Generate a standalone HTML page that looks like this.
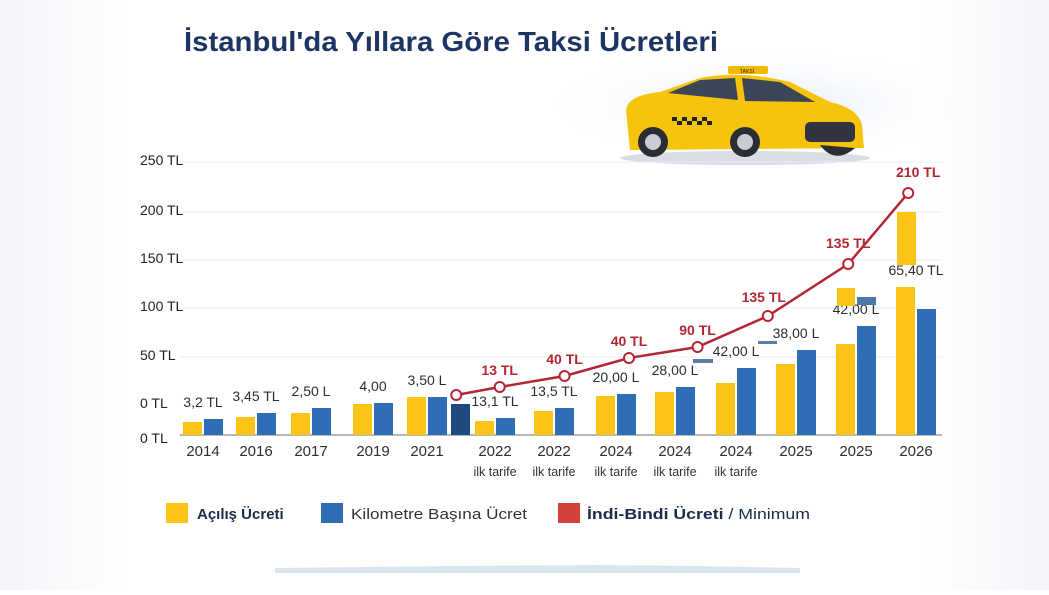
<!DOCTYPE html>
<html><head><meta charset="utf-8">
<style>
html,body{margin:0;padding:0;background:#fff;}
body{width:1049px;height:590px;overflow:hidden;font-family:"Liberation Sans","DejaVu Sans",sans-serif;}
svg text{font-family:"Liberation Sans","DejaVu Sans",sans-serif;}
</style></head>
<body>
<svg id="chart" width="1049" height="590" viewBox="0 0 1049 590" xmlns="http://www.w3.org/2000/svg">
<defs>
<linearGradient id="bg" x1="0" y1="0" x2="1" y2="0"><stop offset="0" stop-color="#f3f5f9"/><stop offset="0.12" stop-color="#fff"/><stop offset="0.88" stop-color="#fff"/><stop offset="1" stop-color="#f3f5f9"/></linearGradient>
<radialGradient id="sky" cx="0.5" cy="0.5" r="0.5"><stop offset="0" stop-color="#e3ebf5"/><stop offset="1" stop-color="#ffffff" stop-opacity="0"/></radialGradient>
</defs>
<rect width="1049" height="590" fill="url(#bg)"/>
<ellipse cx="760" cy="105" rx="230" ry="60" fill="url(#sky)"/>
<text x="184" y="51" font-size="28" font-weight="bold" fill="#1e3563" textLength="534" lengthAdjust="spacingAndGlyphs">İstanbul'da Yıllara Göre Taksi Ücretleri</text>

<g>
<ellipse cx="745" cy="158" rx="125" ry="7" fill="#d8dde6"/>
<path d="M630 150 L626 110 Q628 95 660 92 L700 78 Q740 70 790 82 L830 102 Q858 108 862 125 L864 148 Z" fill="#f7c40d"/>
<path d="M668 93 L700 80 L735 78 L738 100 Z" fill="#3d4656"/>
<path d="M742 78 L780 82 L815 102 L745 101 Z" fill="#3d4656"/>
<rect x="728" y="66" width="40" height="8" rx="2" fill="#f3b800"/>
<text x="740" y="73" font-size="5" fill="#222">TAKSİ</text>
<g fill="#222"><rect x="672" y="117" width="5" height="4"/><rect x="682" y="117" width="5" height="4"/><rect x="692" y="117" width="5" height="4"/><rect x="702" y="117" width="5" height="4"/><rect x="677" y="121" width="5" height="4"/><rect x="687" y="121" width="5" height="4"/><rect x="697" y="121" width="5" height="4"/><rect x="707" y="121" width="5" height="4"/></g>
<rect x="805" y="122" width="50" height="20" rx="5" fill="#2f3440"/>
<circle cx="653" cy="142" r="15" fill="#2a2d33"/><circle cx="653" cy="142" r="8" fill="#c8ccd3"/>
<circle cx="745" cy="142" r="15" fill="#2a2d33"/><circle cx="745" cy="142" r="8" fill="#c8ccd3"/>
<path d="M820 145 Q835 165 855 148 Z" fill="#2a2d33"/>
</g>

<g id="grid"></g>
<g id="yaxis"></g>
<line x1="180" y1="435" x2="942" y2="435" stroke="#9aa0a8" stroke-width="1.5"/>
<g id="bars"></g>
<g>
<rect x="693" y="359" width="20" height="4" fill="#5b7fa8"/>
<rect x="758" y="341" width="19" height="3" fill="#5b7fa8"/>
<rect x="837" y="288" width="18" height="18" fill="#fcc419"/>
<rect x="857" y="297" width="19" height="8" fill="#4a78ad"/>
<rect x="897" y="212" width="19" height="53" fill="#fcc419"/>
</g>
<g id="line"></g>
<g id="xaxis"></g>

<g>
<g><rect x="166" y="503" width="22" height="20" fill="#fcc419"/><text x="197" y="519" font-size="15" font-weight="bold" fill="#1b2b4a">Açılış Ücreti</text></g>
<g><rect x="321" y="503" width="22" height="20" fill="#2f6db5"/><text x="351" y="519" font-size="15" fill="#333" textLength="176" lengthAdjust="spacingAndGlyphs">Kilometre Başına Ücret</text></g>
<g><rect x="558" y="503" width="22" height="20" fill="#d2423b"/><text x="587" y="519" font-size="15" fill="#1b2b4a" textLength="223" lengthAdjust="spacingAndGlyphs"><tspan font-weight="bold">İndi-Bindi Ücreti</tspan> / Minimum</text></g>
</g>
<path d="M275 573 L800 573 L800 568 L700 566 L600 565 L450 566 L275 568 Z" fill="#dbe5f1"/>
</svg>
<script>
const categories=["2014","2016","2017","2019","2021","2022","2022","2024","2024","2024","2025","2025","2026"];
const subLabels=["","","","","","ilk tarife","ilk tarife","ilk tarife","ilk tarife","ilk tarife","","",""];
const openingFee=[13,18,22,31,38,14,24,39,43,52,71,91,148];
const perKmFee=[16,22,27,32,38,17,27,41,48,67,85,109,126];
const valueLabels=["3,2 TL","3,45 TL","2,50 L","4,00","3,50 L","13,1 TL","13,5 TL","20,00 L","28,00 L","42,00 L","38,00 L","42,00 L","65,40 TL"];
const lineCats=[5,5,6,7,8,9,11,12];
const lineOffsets=[-0.57,0.08,0.17,0.22,0.37,0.53,-0.13,-0.13];
const minFare=[40,48,59,77,88,119,171,242];
const minFareLabels=["","13 TL","40 TL","40 TL","90 TL","135 TL","135 TL","210 TL"];
const tickValues=[0,30,78,127,175,223,273];
const tickLabels=["0 TL","0 TL","50 TL","100 TL","150 TL","200 TL","250 TL"];
const groupCenters=[203,256,311,373,427,495,554,616,675,736,796,856,916];

const NS="http://www.w3.org/2000/svg";
const base=435,k=1,bw=19;
function y(v){return base-v*k;}
function xc(i){const f=Math.floor(i);const n=Math.min(f+1,groupCenters.length-1);const step=(n>f)?groupCenters[n]-groupCenters[f]:60;return groupCenters[f]+(i-f)*step;}
function mk(tag,attrs,parent){const e=document.createElementNS(NS,tag);for(const a in attrs)e.setAttribute(a,attrs[a]);parent.appendChild(e);return e;}
const grid=document.getElementById('grid'),yaxis=document.getElementById('yaxis'),bars=document.getElementById('bars'),line=document.getElementById('line'),xaxis=document.getElementById('xaxis');
tickValues.forEach((v,i)=>{
  if(i>1){const g=mk('line',{x1:180,x2:942,y1:y(v),y2:y(v),stroke:'#eceef2','stroke-width':1},grid);
  
  }
  const t=mk('text',{x:140,y:y(v)+(i===0?8:3),'font-size':14,fill:'#222'},yaxis);
  t.textContent=tickLabels[i];
  
  
});
categories.forEach((c,i)=>{
  const cx=groupCenters[i];
  const r1=mk('rect',{x:cx-bw-1,y:y(openingFee[i]),width:bw,height:openingFee[i]*k,fill:'#fcc419'},bars);
  
  
  const r2=mk('rect',{x:cx+1,y:y(perKmFee[i]),width:bw,height:perKmFee[i]*k,fill:'#2f6db5'},bars);
  
  
  const top=Math.max(openingFee[i],perKmFee[i]);
  const vl=mk('text',{x:cx,y:y(top)-12,'font-size':14,fill:'#2a2e36','text-anchor':'middle'},bars);
  vl.textContent=valueLabels[i];
  
  
  const xl=mk('text',{x:cx,y:456,'font-size':15,fill:'#2a2e36','text-anchor':'middle'},xaxis);
  xl.textContent=c;
  
  
  if(subLabels[i]){const sl=mk('text',{x:cx,y:476,'font-size':12.5,fill:'#333','text-anchor':'middle'},xaxis);
  sl.textContent=subLabels[i];
  
  }
});
const navy=mk('rect',{x:451,y:y(31),width:19,height:31,fill:'#1f4a80'},bars);


const pts=minFare.map((v,i)=>[xc(lineCats[i]+lineOffsets[i]),y(v)]);
const pl=mk('polyline',{points:pts.map(p=>p.join(',')).join(' '),fill:'none',stroke:'#b32634','stroke-width':2.5},line);


pts.forEach((p,i)=>{
  const c=mk('circle',{cx:p[0],cy:p[1],r:5,fill:'#fff',stroke:'#b32634','stroke-width':2},line);
  
  
  if(minFareLabels[i]){const t=mk('text',{x:p[0]+(i===5?-4:i===7?10:0),y:p[1]-(i===5?14:i===6?16:i===7?16:12),'font-size':14,'font-weight':'bold',fill:'#b32634','text-anchor':'middle'},line);
  t.textContent=minFareLabels[i];
  
  }
});
</script>
</body></html>
